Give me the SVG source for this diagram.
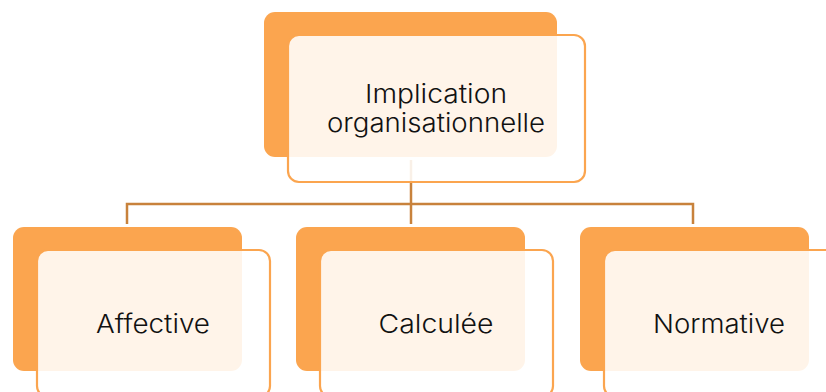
<svg xmlns="http://www.w3.org/2000/svg" width="826" height="392" viewBox="0 0 826 392">
  <style>
    .back { fill: #FBA54F; }
    .front { fill: #FFFFFF; fill-opacity: 0.88; stroke: #FBA54F; stroke-width: 2.2; }
    .link { fill: none; stroke: #C8823C; stroke-width: 2.5; }
    .label { font-family: "Inter", "Liberation Sans", sans-serif; font-size: 26px; font-weight: 300; fill: #111111; text-anchor: middle; }
  </style>
  <rect width="826" height="392" fill="#FFFFFF"/>

  <!-- connectors from the top node to the three children -->
  <g id="connectors">
    <path class="link" d="M411,160 V204"/>
    <path class="link" d="M127,224 V204 H693 V224"/>
    <path class="link" d="M411,204 V224"/>
  </g>

  <g id="node-root">
    <rect class="back" x="264" y="12" width="293" height="145" rx="11"/>
    <rect class="front" x="288" y="35" width="297" height="147" rx="11"/>
    <text class="label" x="436" y="103" textLength="142" lengthAdjust="spacingAndGlyphs">Implication</text>
    <text class="label" x="436" y="132" textLength="218" lengthAdjust="spacingAndGlyphs">organisationnelle</text>
  </g>

  <g id="node-affective">
    <rect class="back" x="13" y="227" width="229" height="144" rx="11"/>
    <rect class="front" x="37" y="250" width="233" height="147" rx="11"/>
    <text class="label" x="153" y="333" textLength="114" lengthAdjust="spacingAndGlyphs">Affective</text>
  </g>

  <g id="node-calculee">
    <rect class="back" x="296" y="227" width="229" height="144" rx="11"/>
    <rect class="front" x="320" y="250" width="233" height="147" rx="11"/>
    <text class="label" x="436" y="333" textLength="115" lengthAdjust="spacingAndGlyphs">Calculée</text>
  </g>

  <g id="node-normative">
    <rect class="back" x="580" y="227" width="229" height="144" rx="11"/>
    <rect class="front" x="604" y="250" width="233" height="147" rx="11"/>
    <text class="label" x="719" y="333" textLength="132" lengthAdjust="spacingAndGlyphs">Normative</text>
  </g>
</svg>
